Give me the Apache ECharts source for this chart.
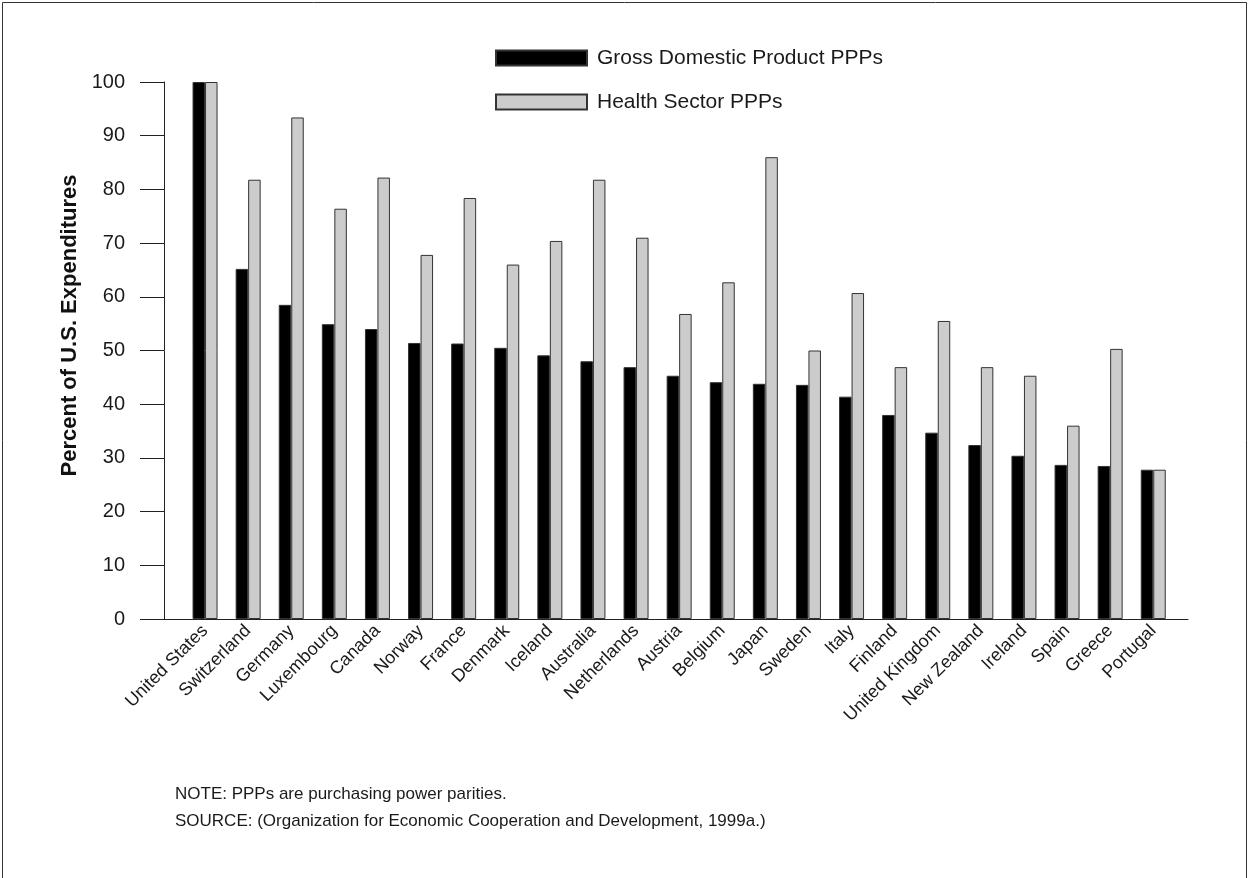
<!DOCTYPE html>
<html>
<head>
<meta charset="utf-8">
<script src="https://cdn.jsdelivr.net/npm/echarts@6/dist/echarts.min.js"></script>
<style>
  html, body { margin: 0; padding: 0; background: #fff; }
  #chart { width: 1250px; height: 878px; }
</style>
</head>
<body>
<div id="chart"></div>
<script>
const countries = ["United States", "Switzerland", "Germany", "Luxembourg", "Canada", "Norway", "France", "Denmark", "Iceland", "Australia", "Netherlands", "Austria", "Belgium", "Japan", "Sweden", "Italy", "Finland", "United Kingdom", "New Zealand", "Ireland", "Spain", "Greece", "Portugal"];
const gdpPPP = [100, 65.2, 58.5, 54.9, 54.0, 51.4, 51.3, 50.5, 49.1, 48.0, 46.9, 45.3, 44.1, 43.8, 43.6, 41.4, 38.0, 34.7, 32.4, 30.4, 28.7, 28.5, 27.8];
const healthPPP = [100, 81.8, 93.4, 76.4, 82.2, 67.8, 78.4, 66.0, 70.4, 81.8, 71.0, 56.8, 62.7, 86.0, 50.0, 60.7, 46.9, 55.5, 46.9, 45.3, 36.0, 50.3, 27.8];
const yTicks = { min: 0, max: 100, interval: 10 };
const seriesNames = ["Gross Domestic Product PPPs", "Health Sector PPPs"];
const noteText = "NOTE: PPPs are purchasing power parities.";
const sourceText = "SOURCE: (Organization for Economic Cooperation and Development, 1999a.)";
const yName = "Percent of U.S. Expenditures";

const FONT = "Liberation Sans, Arial, Helvetica, sans-serif";
const chart = echarts.init(document.getElementById('chart'), null, { renderer: 'canvas' });

const plotTop = 82, plotH = 537;
const catW = 43.1;

chart.setOption({
  animation: false,
  backgroundColor: '#ffffff',
  textStyle: { fontFamily: FONT },
  legend: {
    orient: 'vertical',
    left: 490,
    top: 42,
    itemWidth: 91,
    itemHeight: 15,
    itemGap: 22,
    icon: 'rect',
    textStyle: { fontFamily: FONT, fontSize: 21, lineHeight: 22, color: '#1a1a1a', padding: [0, 0, 0, 5] },
    data: seriesNames
  },
  grid: [
    { left: 183.5, width: catW * countries.length, top: plotTop, height: plotH, containLabel: false },
    { left: 164, width: 1024, top: plotTop, height: plotH, containLabel: false }
  ],
  xAxis: [
    {
      type: 'category', gridIndex: 0, data: countries,
      axisLine: { show: false },
      axisTick: { show: false },
      axisLabel: { rotate: 45, interval: 0, margin: 9, fontFamily: FONT, fontSize: 18, color: '#1a1a1a' }
    },
    {
      type: 'value', gridIndex: 1, min: 0, max: 1,
      axisLine: { show: true, lineStyle: { color: '#222', width: 1 } },
      axisTick: { show: false }, axisLabel: { show: false }, splitLine: { show: false }
    }
  ],
  yAxis: [
    {
      type: 'value', gridIndex: 0, min: yTicks.min, max: yTicks.max, interval: yTicks.interval,
      show: false
    },
    {
      type: 'value', gridIndex: 1, min: yTicks.min, max: yTicks.max, interval: yTicks.interval,
      name: yName, nameLocation: 'middle', nameGap: 83,
      nameTextStyle: { fontFamily: FONT, fontSize: 22, fontWeight: 'bold', color: '#111', padding: [0, 0, 0, 50] },
      axisLine: { show: true, lineStyle: { color: '#222', width: 1 } },
      axisTick: { show: true, inside: false, length: 24, lineStyle: { color: '#222', width: 1 } },
      axisLabel: { margin: 39, fontFamily: FONT, fontSize: 20, color: '#1a1a1a' },
      splitLine: { show: false }
    }
  ],
  series: [
    {
      name: seriesNames[0], type: 'bar', xAxisIndex: 0, yAxisIndex: 0,
      data: gdpPPP, barGap: '0%', barCategoryGap: '42%',
      itemStyle: { color: '#000000', borderColor: '#333', borderWidth: 1 }
    },
    {
      name: seriesNames[1], type: 'bar', xAxisIndex: 0, yAxisIndex: 0,
      data: healthPPP, barGap: '0%', barCategoryGap: '42%',
      itemStyle: { color: '#cccccc', borderColor: '#333', borderWidth: 1 }
    }
  ],
  graphic: [
    { type: 'rect', shape: { x: 2.5, y: 2.5, width: 1244, height: 900 }, style: { fill: 'none', stroke: '#333', lineWidth: 1 }, silent: true },
    { type: 'text', left: 175, top: 786, style: { text: noteText, font: '17px ' + FONT, fill: '#1a1a1a' } },
    { type: 'text', left: 175, top: 813, style: { text: sourceText, font: '17px ' + FONT, fill: '#1a1a1a' } }
  ]
});
</script>
</body>
</html>
